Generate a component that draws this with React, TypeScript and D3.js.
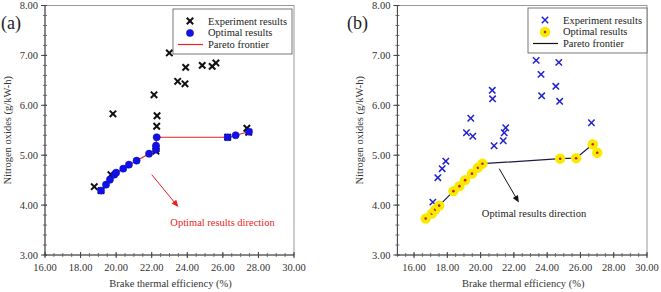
import * as d3 from "d3";

// ---- panel (a) ----
const expA: [number, number][] = [
  [18.77, 4.37], [19.15, 4.29], [19.82, 5.83], [19.71, 4.61], [22.13, 6.21],
  [22.3, 5.79], [22.28, 5.58], [22.99, 7.05], [23.46, 6.48], [23.87, 6.43],
  [23.91, 6.76], [24.84, 6.8], [25.4, 6.78], [25.61, 6.85], [27.35, 5.54],
  [26.27, 5.36], [27.45, 5.46], [22.24, 5.08], [22.24, 5.13],
];
const optA: [number, number][] = [
  [19.15, 4.29], [19.43, 4.41], [19.65, 4.51], [19.9, 4.61], [20.0, 4.65],
  [20.4, 4.73], [20.72, 4.81], [21.15, 4.89], [21.85, 5.03], [22.24, 5.11],
  [22.24, 5.19], [22.28, 5.36], [26.27, 5.36], [26.72, 5.4], [27.47, 5.47],
];

// ---- panel (b) ----
const expB: [number, number][] = [
  [17.13, 4.06], [17.43, 4.55], [17.69, 4.73], [17.91, 4.88], [19.15, 5.45],
  [19.41, 5.74], [19.53, 5.38], [20.7, 6.3], [20.72, 6.13], [20.81, 5.19],
  [21.36, 5.29], [21.42, 5.45], [21.51, 5.55], [23.34, 6.9], [23.63, 6.62],
  [23.67, 6.19], [24.52, 6.38], [24.7, 6.86], [24.75, 6.08], [26.66, 5.65],
];
const optB: [number, number][] = [
  [16.7, 3.73], [17.07, 3.83], [17.27, 3.91], [17.51, 3.99], [18.37, 4.28],
  [18.73, 4.38], [19.07, 4.5], [19.48, 4.63], [19.84, 4.75], [20.11, 4.83],
  [24.78, 4.93], [25.74, 4.94], [26.74, 5.22], [27.01, 5.05],
];

const xTicks = [16, 18, 20, 22, 24, 26, 28, 30];
const yTicks = [3, 4, 5, 6, 7, 8];
const legendLabels = ["Experiment results", "Optimal results", "Pareto frontier"];
const arrowText = "Optimal results direction";

const FONT = "Liberation Serif, Times New Roman, serif";

type PanelProps = {
  tag: string;
  left: number;
  right: number;
  xMin: number;
  exp: [number, number][];
  opt: [number, number][];
  variant: "a" | "b";
  arrow: [[number, number], [number, number]];
  textPos: [number, number];
  legendX: number;
  tagX: number;
  yLabelX: number;
};

const TOP = 5.5;
const BOTTOM = 255;

const Cross = ({ x, y, color, s, w }: { x: number; y: number; color: string; s: number; w: number }) => (
  <g stroke={color} strokeWidth={w}>
    <line x1={x - s} y1={y - s} x2={x + s} y2={y + s} />
    <line x1={x - s} y1={y + s} x2={x + s} y2={y - s} />
  </g>
);

const OptMark = ({ x, y, variant }: { x: number; y: number; variant: "a" | "b" }) =>
  variant === "a" ? (
    <circle cx={x} cy={y} r={3.6} fill="#1010e8" stroke="#0a0ab0" strokeWidth={0.5} />
  ) : (
    <g>
      <circle cx={x} cy={y} r={5.2} fill="#f7ec00" />
      <circle cx={x} cy={y} r={1.3} fill="#e0103a" />
    </g>
  );

const Panel = (p: PanelProps) => {
  const x = d3.scaleLinear().domain([p.xMin, 30]).range([p.left, p.right]);
  const y = d3.scaleLinear().domain([3, 8]).range([BOTTOM, TOP]);
  const line = d3
    .line<[number, number]>()
    .x((d) => x(d[0]))
    .y((d) => y(d[1]));

  const minorX = d3.range(p.xMin, 30.001, 0.5);
  const minorY = d3.range(3, 8.001, 0.2);

  const expColor = p.variant === "a" ? "#111" : "#2222cc";
  const lineColor = p.variant === "a" ? "#ee2222" : "#1c1c44";
  const arrowColor = p.variant === "a" ? "#ee1c1c" : "#111";
  const textColor = p.variant === "a" ? "#ee1c1c" : "#222";

  const [a0, a1] = p.arrow;
  const ax0 = x(a0[0]), ay0 = y(a0[1]), ax1 = x(a1[0]), ay1 = y(a1[1]);
  const ang = Math.atan2(ay1 - ay0, ax1 - ax0);
  const hl = 7, hw = 3;
  const head = [
    [ax1, ay1],
    [ax1 - hl * Math.cos(ang) + hw * Math.sin(ang), ay1 - hl * Math.sin(ang) - hw * Math.cos(ang)],
    [ax1 - hl * Math.cos(ang) - hw * Math.sin(ang), ay1 - hl * Math.sin(ang) + hw * Math.cos(ang)],
  ]
    .map((q) => q.join(","))
    .join(" ");

  const lx = p.legendX;
  const ly = p.variant === "a" ? 9 : 8;

  return (
    <g style={{ fontFamily: FONT }}>
      {/* frame */}
      <rect x={p.left} y={TOP} width={p.right - p.left} height={BOTTOM - TOP} fill="none" stroke="#999" strokeWidth={1} />
      <line x1={p.left} y1={TOP} x2={p.left} y2={BOTTOM} stroke="#444" />
      <line x1={p.left} y1={BOTTOM} x2={p.right} y2={BOTTOM} stroke="#444" />

      {/* x ticks */}
      {minorX.map((v) => (
        <line key={"mx" + v} x1={x(v)} x2={x(v)} y1={BOTTOM - 2} y2={BOTTOM + 2} stroke="#555" strokeWidth={0.8} />
      ))}
      {xTicks.map((v) => (
        <g key={"x" + v}>
          <line x1={x(v)} x2={x(v)} y1={BOTTOM - 3} y2={BOTTOM + 3} stroke="#444" />
          <text x={x(v)} y={BOTTOM + 15.5} textAnchor="middle" fontSize={10.5} fill="#333">
            {v.toFixed(2)}
          </text>
        </g>
      ))}

      {/* y ticks */}
      {minorY.map((v) => (
        <line key={"my" + v} x1={p.left - 2} x2={p.left + 2} y1={y(v)} y2={y(v)} stroke="#555" strokeWidth={0.8} />
      ))}
      {yTicks.map((v) => (
        <g key={"y" + v}>
          <line x1={p.left - 4} x2={p.left + 2} y1={y(v)} y2={y(v)} stroke="#444" />
          <text x={p.left - 7} y={y(v)} dy="0.35em" textAnchor="end" fontSize={10.5} fill="#333">
            {v.toFixed(2)}
          </text>
        </g>
      ))}

      {/* axis titles */}
      <text x={(p.left + p.right) / 2 + 1} y={287} textAnchor="middle" fontSize={10.5} fill="#333">
        Brake thermal efficiency (%)
      </text>
      <text
        transform={`translate(${p.yLabelX},${(TOP + BOTTOM) / 2}) rotate(-90)`}
        textAnchor="middle"
        fontSize={10.5}
        fill="#333"
      >
        Nitrogen oxides (g/kW-h)
      </text>
      <text x={p.tagX} y={29} fontSize={18} fill="#222">
        {p.tag}
      </text>

      {/* experiment marks */}
      {p.exp.map((d, i) => (
        <Cross key={"e" + i} x={x(d[0])} y={y(d[1])} color={expColor} s={3.2} w={p.variant === "a" ? 2 : 1.5} />
      ))}

      {/* pareto frontier */}
      <path d={line(p.opt) ?? ""} fill="none" stroke={lineColor} strokeWidth={1.2} />
      {p.opt.map((d, i) => (
        <OptMark key={"o" + i} x={x(d[0])} y={y(d[1])} variant={p.variant} />
      ))}

      {/* direction arrow */}
      <line x1={ax0} y1={ay0} x2={ax1 - 5 * Math.cos(ang)} y2={ay1 - 5 * Math.sin(ang)} stroke={arrowColor} strokeWidth={1} />
      <polygon points={head} fill={arrowColor} />
      <text x={p.textPos[0]} y={p.textPos[1]} dy="0.35em" textAnchor="middle" fontSize={10.5} fill={textColor}>
        {arrowText}
      </text>

      {/* legend */}
      <rect x={lx} y={ly} width={119} height={45} fill="white" stroke="#555" strokeWidth={0.8} />
      <Cross x={lx + 17} y={ly + 12} color={expColor} s={3.2} w={p.variant === "a" ? 2 : 1.5} />
      <OptMark x={lx + 17} y={ly + 24} variant={p.variant} />
      <line x1={lx + 5} x2={lx + 30} y1={ly + 35.5} y2={ly + 35.5} stroke={p.variant === "a" ? "#ee2222" : "#111"} strokeWidth={1.2} />
      {legendLabels.map((t, i) => (
        <text key={t} x={lx + 35} y={ly + 12 + i * 11.7} dy="0.35em" fontSize={10.5} fill="#222">
          {t}
        </text>
      ))}
    </g>
  );
};

export default function App() {
  return (
    <svg width={661} height={292} style={{ display: "block", position: "absolute", left: 0, top: 0 }}>
      <rect width={661} height={292} fill="white" />
      <Panel
        tag="(a)"
        left={45}
        right={294}
        xMin={16}
        exp={expA}
        opt={optA}
        variant="a"
        arrow={[[22.0, 4.61], [23.5, 3.96]]}
        textPos={[222.5, 222]}
        legendX={173}
        tagX={1}
        yLabelX={11}
      />
      <Panel
        tag="(b)"
        left={397.4}
        right={647}
        xMin={15}
        exp={expB}
        opt={optB}
        variant="b"
        arrow={[[21.12, 4.73], [22.3, 4.05]]}
        textPos={[534, 213.5]}
        legendX={528}
        tagX={347}
        yLabelX={363}
      />
    </svg>
  );
}
